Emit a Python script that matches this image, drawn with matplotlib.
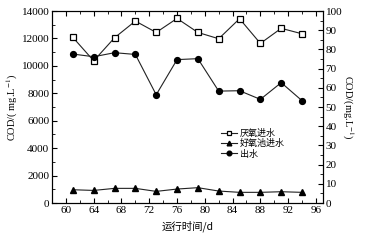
import matplotlib
matplotlib.use("Agg")
import matplotlib.pyplot as plt
from matplotlib.ticker import MultipleLocator

plt.rcParams["font.family"] = ["Liberation Serif", "Noto Sans CJK SC"]
plt.rcParams["mathtext.fontset"] = "stix"

days = [61, 64, 67, 70, 73, 76, 79, 82, 85, 88, 91, 94]
anaerobic_in = [12080, 10370, 12050, 13270, 12440, 13460, 12440, 11980, 13440, 11640, 12740, 12340]
aerobic_in = [970, 920, 1070, 1070, 850, 1020, 1120, 875, 780, 780, 825, 780]
effluent = [77.6, 76.2, 78.3, 77.4, 56.4, 74.7, 75.2, 58.3, 58.5, 54.0, 62.7, 53.3]

fig = plt.figure(figsize=(3.69, 2.40), dpi=100)
ax = fig.add_axes([0.141, 0.154, 0.734, 0.800])
ax2 = ax.twinx()

kw = dict(color="#222222", lw=0.8, ms=4.2)
l1, = ax.plot(days, anaerobic_in, marker="s", mfc="white", mec="black", mew=0.9,
              label="厌氧进水", **kw)
l2, = ax.plot(days, aerobic_in, marker="^", mfc="black", mec="black",
              label="好氧池进水", **kw)
l3, = ax2.plot(days, effluent, marker="o", mfc="black", mec="black",
               label="出水", **kw)

ax.set_xlim(58, 97)
ax.set_ylim(0, 14000)
ax2.set_ylim(0, 100)
ax.xaxis.set_major_locator(MultipleLocator(4))
ax.xaxis.set_minor_locator(MultipleLocator(2))
ax.yaxis.set_major_locator(MultipleLocator(2000))
ax.yaxis.set_minor_locator(MultipleLocator(1000))
ax2.yaxis.set_major_locator(MultipleLocator(10))
ax2.yaxis.set_minor_locator(MultipleLocator(5))

ax.tick_params(which="both", direction="in", top=True, labelsize=8, pad=2)
ax.tick_params(which="major", length=3.5)
ax.tick_params(which="minor", length=2)
ax2.tick_params(which="both", direction="in", labelsize=8, pad=2)
ax2.tick_params(which="major", length=3.5)
ax2.tick_params(which="minor", length=2)

ax.set_xlabel("运行时间/d", fontsize=7.5, family=["Noto Sans CJK SC"], labelpad=4)
ax.set_ylabel("COD/( mg.L$^{-1}$)", fontsize=7.5, labelpad=1)
ax2.set_ylabel("COD/(mg.L$^{-1}$)", fontsize=7.5, rotation=270, labelpad=9)

ax.legend(handles=[l1, l2, l3], loc="upper left", bbox_to_anchor=(0.6, 0.42),
          frameon=False, prop={"family": "Noto Sans CJK SC", "size": 6.5},
          handlelength=1.8, handletextpad=0.3, labelspacing=0.15, borderpad=0.2,
          markerscale=0.8)

fig.savefig("out.png", dpi=100)
